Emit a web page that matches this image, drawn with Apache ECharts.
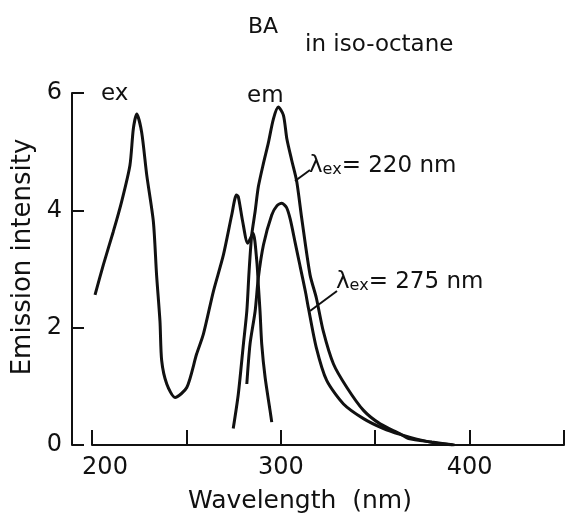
<!DOCTYPE html>
<html>
<head>
<meta charset="utf-8">
<script src="https://cdn.jsdelivr.net/npm/echarts@6/dist/echarts.min.js"></script>
<style>
  html, body { margin: 0; background: #fff; }
  #chart { width: 565px; height: 519px; }
</style>
</head>
<body>
<div id="chart"></div>
<script>
// excitation spectrum
var exWave = [201.6, 206, 211.3, 215.7, 220.1, 221.9, 223.7, 226.3, 229, 232.5, 234.2, 236, 236.9, 239.6, 244,
  250.2, 255.4, 259, 264.3, 269.6, 274, 276.5, 277.5, 279.8, 282.5, 285.3, 287.3, 288.1, 289, 289.9, 291.7, 294.3, 295.2]
var exInt = [2.56, 3.07, 3.64, 4.15, 4.77, 5.39, 5.64, 5.33, 4.6, 3.81, 2.9, 2.11, 1.44, 1.04, 0.81,
  0.98, 1.55, 1.89, 2.62, 3.24, 3.92, 4.26, 4.23, 3.81, 3.44, 3.61, 3.13, 2.73, 2.28, 1.72, 1.15, 0.59, 0.39]

// emission, excited at 220 nm
var em220Wave = [274.8, 277.5, 280.2, 282, 283.2, 284.6, 286.4, 288.1, 290.8, 293.4, 296.1, 298.7, 301.4, 303.2,
  305.8, 308.4, 311.1, 315.5, 318.8, 322.5, 327.9, 335, 343.8, 352.6, 363.2, 367.6, 380, 392]
var em220Int = [0.28, 0.87, 1.72, 2.28, 2.96, 3.58, 3.98, 4.4, 4.8, 5.15, 5.56, 5.76, 5.62, 5.22,
  4.85, 4.5, 3.86, 2.9, 2.51, 1.94, 1.38, 0.98, 0.59, 0.36, 0.19, 0.11, 0.05, 0]

// emission, excited at 275 nm
var em275Wave = [282, 283.7, 286.4, 288.1, 290.8, 295.2, 298, 300.5, 303, 305, 307.6, 310.2, 313, 314.6,
  318.8, 324.3, 333.2, 343.8, 354.4, 363.2, 372, 381, 391]
var em275Int = [1.04, 1.72, 2.28, 2.85, 3.41, 3.92, 4.08, 4.12, 4.05, 3.85, 3.45, 3.05, 2.62, 2.34,
  1.66, 1.10, 0.70, 0.45, 0.28, 0.18, 0.1, 0.04, 0]

var xTicks = [200, 250, 300, 350, 400, 450]
var xLabels = [200, 300, 400]

function pairs (xs, ys) {
  return xs.map(function (x, i) { return [x, ys[i]] })
}

var font = 'DejaVu Sans'
var ink = '#111'

var chart = echarts.init(document.getElementById('chart'))

function curve (name, data) {
  return {
    name: name,
    type: 'line',
    data: data,
    smooth: 0.25,
    symbol: 'none',
    lineStyle: { color: ink, width: 3 }
  }
}

chart.setOption({
  backgroundColor: '#fff',
  animation: false,
  title: [
    { text: 'BA', left: 243, top: 11, textStyle: { fontFamily: font, fontSize: 22, fontWeight: 'normal', color: ink } },
    { text: 'in iso-octane', left: 300, top: 29, textStyle: { fontFamily: font, fontSize: 23, fontWeight: 'normal', color: ink } }
  ],
  grid: { left: 92, right: 1, top: 93, bottom: 72 },
  xAxis: {
    type: 'value',
    min: 200,
    max: 450,
    interval: 50,
    name: 'Wavelength  (nm)',
    nameLocation: 'middle',
    nameGap: 44,
    nameTextStyle: { fontFamily: font, fontSize: 25, color: ink, padding: [0, 56, 0, 0] },
    axisLine: { lineStyle: { color: ink, width: 2 } },
    axisTick: { inside: true, length: 15, customValues: xTicks, lineStyle: { color: ink, width: 2 } },
    axisLabel: {
      customValues: xLabels,
      fontFamily: font,
      fontSize: 24,
      color: ink,
      margin: 11,
      // the first label sits a little right of its tick in the original
      formatter: function (v) { return v === 200 ? '{p|200}' : String(v) },
      rich: { p: { fontFamily: font, fontSize: 24, color: ink, padding: [0, 0, 0, 26] } }
    },
    splitLine: { show: false }
  },
  yAxis: {
    type: 'value',
    min: 0,
    max: 6,
    interval: 2,
    offset: 20,
    name: 'Emission intensity',
    nameLocation: 'middle',
    nameGap: 36,
    nameTextStyle: { fontFamily: font, fontSize: 26, color: ink, padding: [0, 0, 0, 24] },
    axisLine: { show: true, lineStyle: { color: ink, width: 2 } },
    axisTick: { show: true, inside: true, length: 12, lineStyle: { color: ink, width: 2 } },
    axisLabel: { fontFamily: font, fontSize: 24, color: ink, margin: 10 },
    splitLine: { show: false }
  },
  series: [
    curve('ex', pairs(exWave, exInt)),
    curve('em λex=220 nm', pairs(em220Wave, em220Int)),
    curve('em λex=275 nm', pairs(em275Wave, em275Int))
  ]
})

// annotations: plain text and short leader lines
var lam = {
  l: { fontFamily: font, fontSize: 23, lineHeight: 26, fill: ink, verticalAlign: 'bottom' },
  s: { fontFamily: font, fontSize: 16, lineHeight: 21, fill: ink, verticalAlign: 'bottom' },
  n: { fontFamily: font, fontSize: 23, lineHeight: 26, fill: ink, verticalAlign: 'bottom' }
}
chart.setOption({
  graphic: [
    { type: 'text', left: 101, top: 83, style: { text: 'ex', font: '23px "DejaVu Sans"', fill: ink } },
    { type: 'text', left: 247, top: 85, style: { text: 'em', font: '23px "DejaVu Sans"', fill: ink } },
    { type: 'text', left: 309, top: 155, style: { text: '{l|λ}{s|ex}{n|= 220 nm}', rich: lam } },
    { type: 'text', left: 336, top: 271, style: { text: '{l|λ}{s|ex}{n|= 275 nm}', rich: lam } },
    { type: 'line', shape: { x1: 295, y1: 181, x2: 310, y2: 170 }, style: { stroke: ink, lineWidth: 2 } },
    { type: 'line', shape: { x1: 310, y1: 311, x2: 337, y2: 291 }, style: { stroke: ink, lineWidth: 2 } }
  ]
})
</script>
</body>
</html>
